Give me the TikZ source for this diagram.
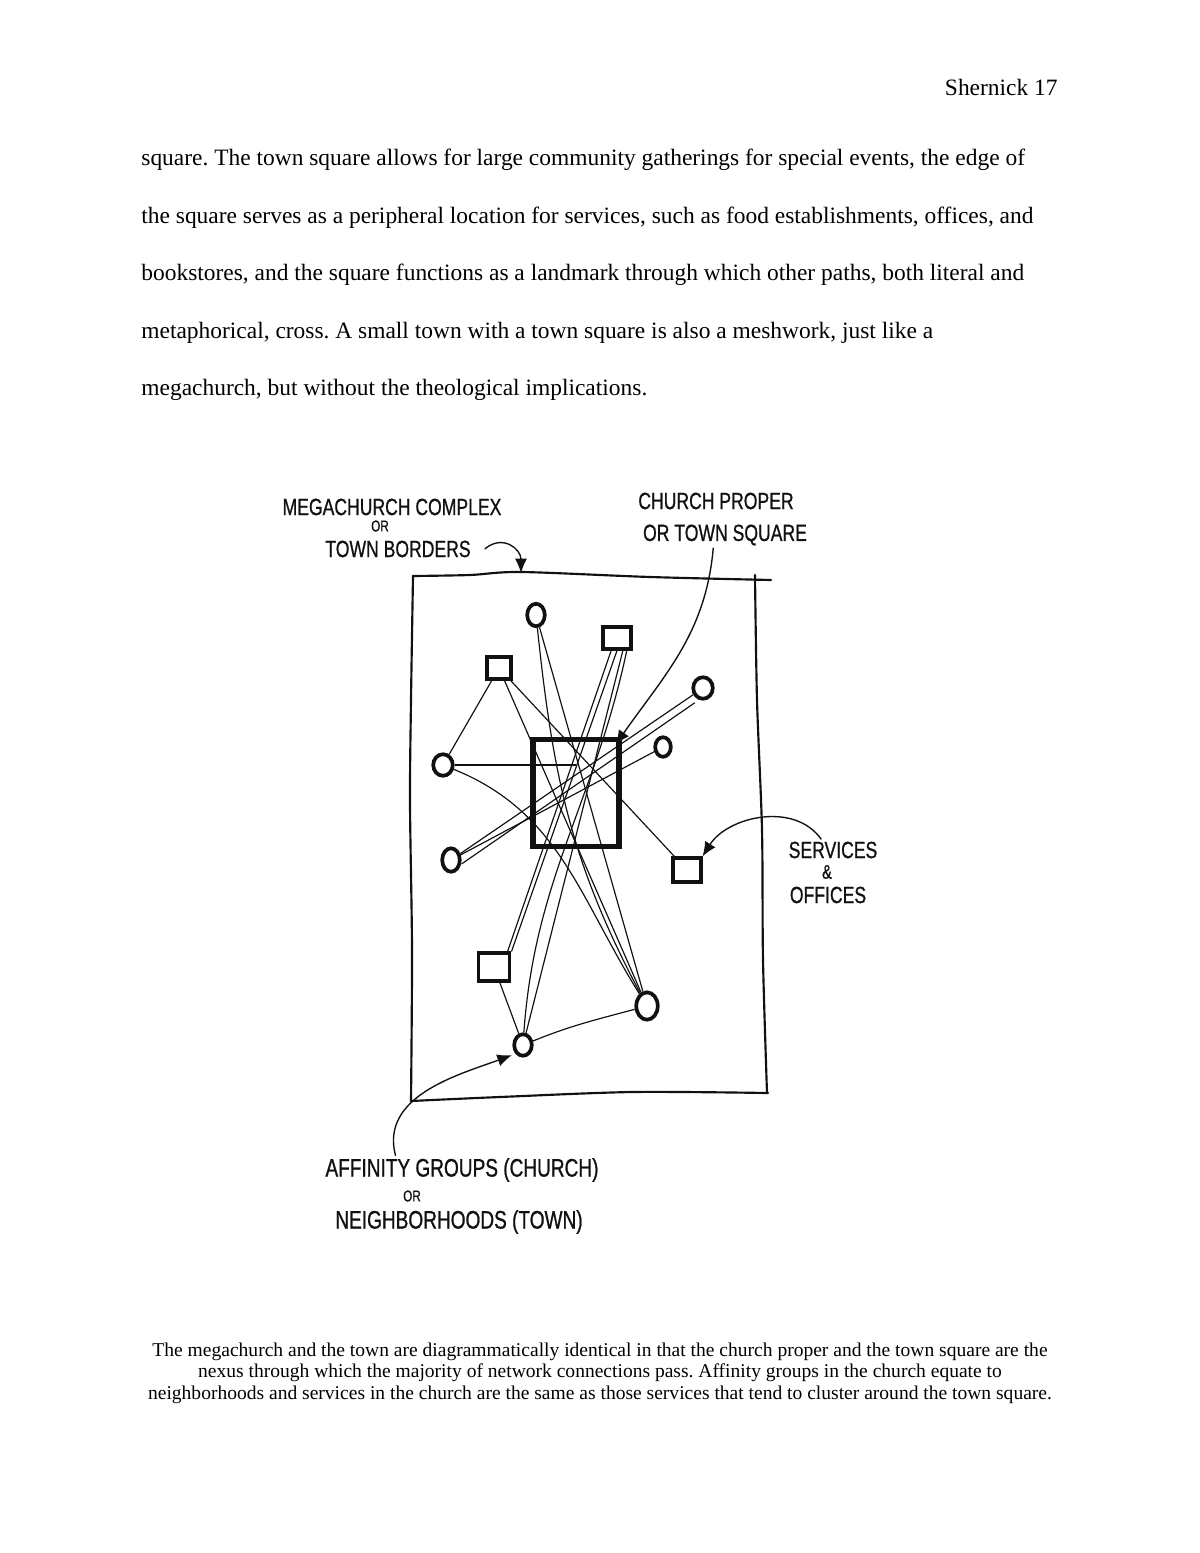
\documentclass[tikz,border=0pt]{standalone}
\usepackage{fontspec}
\setmainfont{Liberation Serif}
\newfontfamily\handfont[FakeStretch=0.75,FakeBold=0.8]{Liberation Sans}
\usepackage{tikz}
\usetikzlibrary{arrows.meta,shapes.geometric}
\definecolor{ink}{HTML}{111111}
\frenchspacing
\tikzset{
  body/.style={font=\fontsize{12}{14}\selectfont, anchor=base west, inner sep=0pt},
  bodyr/.style={font=\fontsize{12}{14}\selectfont, anchor=base east, inner sep=0pt},
  capt/.style={font=\fontsize{10}{11}\selectfont, anchor=base, inner sep=0pt},
  border/.style={draw=ink, line width=1.1pt, line cap=round, line join=round},
  proper/.style={draw=ink, line width=2.6pt, minimum width=44pt, minimum height=55pt, inner sep=0pt},
  grp/.style={ellipse, draw=ink, line width=1.9pt, inner sep=0pt},
  svc/.style={rectangle, draw=ink, line width=1.9pt, inner sep=0pt},
  link/.style={draw=ink, line width=0.6pt},
  note/.style={font=\handfont\fontsize{12}{12}\selectfont, inner sep=1pt, text=ink},
  notesm/.style={font=\handfont\fontsize{8}{8}\selectfont, inner sep=1pt, text=ink},
  hook/.style={draw=ink, line width=0.7pt, -{Latex[length=2.6mm,width=2.2mm]}},
}

\begin{document}
\begin{tikzpicture}[x=0.017992cm, y=-0.017992cm]

  \fill[white] (0,0) rectangle (1200,1553);
  \useasboundingbox (0,0) rectangle (1200,1553);

  % page text
  \node[bodyr] (head) at (1058,96) {Shernick 17};
  \foreach \txt [count=\i from 0] in {
      {square. The town square allows for large community gatherings for special events, the edge of},
      {the square serves as a peripheral location for services, such as food establishments, offices, and},
      {bookstores, and the square functions as a landmark through which other paths, both literal and},
      {metaphorical, cross. A small town with a town square is also a meshwork, just like a},
      {megachurch, but without the theological implications.}}
    \node[body] (body\i) at (141,166+57.5*\i) {\txt};

  % town borders
  \draw[border] plot[smooth] coordinates {(413,576) (470,575) (521,572) (650,577) (771,580)};
  \draw[border] plot[smooth] coordinates {(755,575) (757,700) (762,830) (763,960) (767,1093)};
  \draw[border] plot[smooth] coordinates {(411,1101) (500,1097) (633,1092) (768,1093)};
  \draw[border] plot[smooth] coordinates {(413,576) (411,700) (410,803) (412,950) (411,1101)};
  \coordinate (edgetop) at (521,573);

  % church proper / town square
  \node[proper] (sq) at (576,793) {};

  % affinity groups
  \node[grp, minimum width=9pt,  minimum height=11.5pt] (c1) at (536,615) {};
  \node[grp, minimum width=10pt, minimum height=11pt]   (c2) at (703,688) {};
  \node[grp, minimum width=8pt,  minimum height=10pt]   (c3) at (663,747) {};
  \node[grp, minimum width=10pt, minimum height=11pt]   (c4) at (443,765) {};
  \node[grp, minimum width=9pt,  minimum height=12pt]   (c5) at (451,860) {};
  \node[grp, minimum width=11pt, minimum height=14pt]   (c6) at (647,1006) {};
  \node[grp, minimum width=9pt,  minimum height=11pt]   (c7) at (523,1045) {};

  % services
  \node[svc, minimum width=14pt, minimum height=11pt] (s1) at (617,638) {};
  \node[svc, minimum width=12pt, minimum height=11pt] (s2) at (499,668) {};
  \node[svc, minimum width=14pt, minimum height=12pt] (s3) at (687,870) {};
  \node[svc, minimum width=16pt, minimum height=14pt] (s4) at (494,967) {};

  % connections
  \draw[link] (s2) -- (c4);
  \draw[link] (s2) -- (s3);
  \draw[link] (s2) -- (c6);
  \draw[link] (c4) -- (c4 -| sq.center);
  \draw[link] (c4) to[out=-22, in=122] (c6);
  \draw[link] (c5) -- (c2);
  \draw[link] ([yshift=-2pt]c5.east) -- ([yshift=-3pt]c2.south west);
  \draw[link] (c5) -- (c3);
  \draw[link] (c1) -- (c6);
  \draw[link] (c1) to[out=-84, in=118] (c6);
  \draw[link] ([xshift=-3pt]s1.south) -- ([xshift=-2pt]s4.north east);
  \draw[link] (s1.south) -- (s4.north east);
  \draw[link] ([xshift=3pt]s1.south) -- (c7);
  \draw[link] ([xshift=5pt]s1.south) to[out=-102, in=86] (c7);
  \draw[link] (s4) -- (c7);
  \draw[link] (c7) to[out=22, in=195] (c6);

  % annotations
  \node[note] (brd1) at (392,507) {MEGACHURCH COMPLEX};
  \node[notesm] (brd2) at (380,526) {OR};
  \node[note] (brd3) at (398,549) {TOWN BORDERS};
  \draw[hook] ([xshift=6pt]brd3.east) to[out=40, in=90, looseness=1.4] (edgetop);

  \node[note] (sqr1) at (716,501) {CHURCH PROPER};
  \node[note] (sqr2) at (725,535) {OR TOWN SQUARE};
  \draw[hook] ([xshift=-6pt]sqr2.south) to[out=-95, in=55] ([shift={(-6,8)}]sq.north east);

  \node[note] (svc1) at (833,850) {SERVICES};
  \node[notesm, font=\handfont\fontsize{10}{10}\selectfont] (svc2) at (827,872) {\&};
  \node[note] (svc3) at (828,895) {OFFICES};
  \draw[hook] ([xshift=-6pt]svc1.north) to[out=125, in=58] (s3.north east);

  \node[note, font=\handfont\fontsize{13}{13}\selectfont] (aff1) at (462,1170) {AFFINITY GROUPS (CHURCH)};
  \node[notesm] (aff2) at (412,1196) {OR};
  \node[note, font=\handfont\fontsize{13}{13}\selectfont] (aff3) at (459,1222) {NEIGHBORHOODS (TOWN)};
  \draw[hook, shorten >=2pt] ([xshift=-34pt]aff1.north) to[out=105, in=200] (c7.south west);

  % caption
  \node[capt] (cap1) at (600,1356) {The megachurch and the town are diagrammatically identical in that the church proper and the town square are the};
  \node[capt] (cap2) at (600,1377.5) {nexus through which the majority of network connections pass. Affinity groups in the church equate to};
  \node[capt] (cap3) at (600,1399) {neighborhoods and services in the church are the same as those services that tend to cluster around the town square.};

\end{tikzpicture}
\end{document}
